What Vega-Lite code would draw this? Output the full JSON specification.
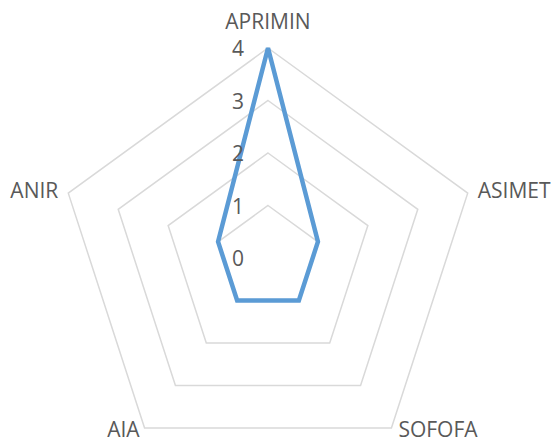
{
  "$schema": "https://vega.github.io/schema/vega-lite/v6.json",
  "autosize": {"type": "fit", "contains": "padding"},
  "width": 553,
  "height": 443,
  "padding": 0,
  "background": "white",
  "config": {"view": {"stroke": null}},
  "datasets": {
    "series": [
      {"cat": "APRIMIN", "i": 0, "value": 4},
      {"cat": "ASIMET", "i": 1, "value": 1},
      {"cat": "SOFOFA", "i": 2, "value": 1},
      {"cat": "AIA", "i": 3, "value": 1},
      {"cat": "ANIR", "i": 4, "value": 1}
    ],
    "grid": [
      {"level": 1, "i": 0}, {"level": 1, "i": 1}, {"level": 1, "i": 2}, {"level": 1, "i": 3}, {"level": 1, "i": 4},
      {"level": 2, "i": 0}, {"level": 2, "i": 1}, {"level": 2, "i": 2}, {"level": 2, "i": 3}, {"level": 2, "i": 4},
      {"level": 3, "i": 0}, {"level": 3, "i": 1}, {"level": 3, "i": 2}, {"level": 3, "i": 3}, {"level": 3, "i": 4},
      {"level": 4, "i": 0}, {"level": 4, "i": 1}, {"level": 4, "i": 2}, {"level": 4, "i": 3}, {"level": 4, "i": 4}
    ],
    "ticks": [
      {"level": 0}, {"level": 1}, {"level": 2}, {"level": 3}, {"level": 4}
    ]
  },
  "layer": [
    {
      "data": {"name": "grid"},
      "transform": [
        {"calculate": "datum.level * sin(datum.i * 2 * PI / 5)", "as": "px"},
        {"calculate": "datum.level * cos(datum.i * 2 * PI / 5)", "as": "py"}
      ],
      "mark": {"type": "line", "interpolate": "linear-closed", "color": "#d9d9d9", "strokeWidth": 1.5},
      "encoding": {
        "x": {"field": "px", "type": "quantitative", "scale": {"domain": [-5.1048, 5.4286], "nice": false, "zero": false}, "axis": null},
        "y": {"field": "py", "type": "quantitative", "scale": {"domain": [-3.5238, 4.9143], "nice": false, "zero": false}, "axis": null},
        "detail": {"field": "level", "type": "nominal"},
        "order": {"field": "i", "type": "quantitative"}
      }
    },
    {
      "data": {"name": "series"},
      "transform": [
        {"calculate": "datum.value * sin(datum.i * 2 * PI / 5)", "as": "px"},
        {"calculate": "datum.value * cos(datum.i * 2 * PI / 5)", "as": "py"}
      ],
      "mark": {"type": "line", "interpolate": "linear-closed", "color": "#5b9bd5", "strokeWidth": 4.5},
      "encoding": {
        "x": {"field": "px", "type": "quantitative"},
        "y": {"field": "py", "type": "quantitative"},
        "order": {"field": "i", "type": "quantitative"}
      }
    },
    {
      "data": {"name": "ticks"},
      "transform": [{"calculate": "0", "as": "px"}],
      "mark": {"type": "text", "font": "Open Sans", "fontSize": 21, "color": "#595959", "align": "center", "baseline": "middle", "dx": -30, "dy": 2},
      "encoding": {
        "x": {"field": "px", "type": "quantitative"},
        "y": {"field": "level", "type": "quantitative"},
        "text": {"field": "level", "type": "quantitative"}
      }
    },
    {
      "data": {"name": "series"},
      "transform": [
        {"filter": "datum.cat == 'APRIMIN'"},
        {"calculate": "4 * sin(datum.i * 2 * PI / 5)", "as": "px"},
        {"calculate": "4 * cos(datum.i * 2 * PI / 5)", "as": "py"}
      ],
      "mark": {"type": "text", "font": "Open Sans", "fontSize": 21, "color": "#595959", "align": "center", "baseline": "middle", "dy": -25},
      "encoding": {
        "x": {"field": "px", "type": "quantitative"},
        "y": {"field": "py", "type": "quantitative"},
        "text": {"field": "cat"}
      }
    },
    {
      "data": {"name": "series"},
      "transform": [
        {"filter": "datum.cat == 'ASIMET'"},
        {"calculate": "4 * sin(datum.i * 2 * PI / 5)", "as": "px"},
        {"calculate": "4 * cos(datum.i * 2 * PI / 5)", "as": "py"}
      ],
      "mark": {"type": "text", "font": "Open Sans", "fontSize": 21, "color": "#595959", "align": "left", "baseline": "middle", "dx": 10, "dy": -1},
      "encoding": {
        "x": {"field": "px", "type": "quantitative"},
        "y": {"field": "py", "type": "quantitative"},
        "text": {"field": "cat"}
      }
    },
    {
      "data": {"name": "series"},
      "transform": [
        {"filter": "datum.cat == 'ANIR'"},
        {"calculate": "4 * sin(datum.i * 2 * PI / 5)", "as": "px"},
        {"calculate": "4 * cos(datum.i * 2 * PI / 5)", "as": "py"}
      ],
      "mark": {"type": "text", "font": "Open Sans", "fontSize": 21, "color": "#595959", "align": "right", "baseline": "middle", "dx": -10, "dy": -1},
      "encoding": {
        "x": {"field": "px", "type": "quantitative"},
        "y": {"field": "py", "type": "quantitative"},
        "text": {"field": "cat"}
      }
    },
    {
      "data": {"name": "series"},
      "transform": [
        {"filter": "datum.cat == 'SOFOFA'"},
        {"calculate": "4 * sin(datum.i * 2 * PI / 5)", "as": "px"},
        {"calculate": "4 * cos(datum.i * 2 * PI / 5)", "as": "py"}
      ],
      "mark": {"type": "text", "font": "Open Sans", "fontSize": 21, "color": "#595959", "align": "left", "baseline": "middle", "dx": 7, "dy": 3},
      "encoding": {
        "x": {"field": "px", "type": "quantitative"},
        "y": {"field": "py", "type": "quantitative"},
        "text": {"field": "cat"}
      }
    },
    {
      "data": {"name": "series"},
      "transform": [
        {"filter": "datum.cat == 'AIA'"},
        {"calculate": "4 * sin(datum.i * 2 * PI / 5)", "as": "px"},
        {"calculate": "4 * cos(datum.i * 2 * PI / 5)", "as": "py"}
      ],
      "mark": {"type": "text", "font": "Open Sans", "fontSize": 21, "color": "#595959", "align": "right", "baseline": "middle", "dx": -5, "dy": 3},
      "encoding": {
        "x": {"field": "px", "type": "quantitative"},
        "y": {"field": "py", "type": "quantitative"},
        "text": {"field": "cat"}
      }
    }
  ]
}
